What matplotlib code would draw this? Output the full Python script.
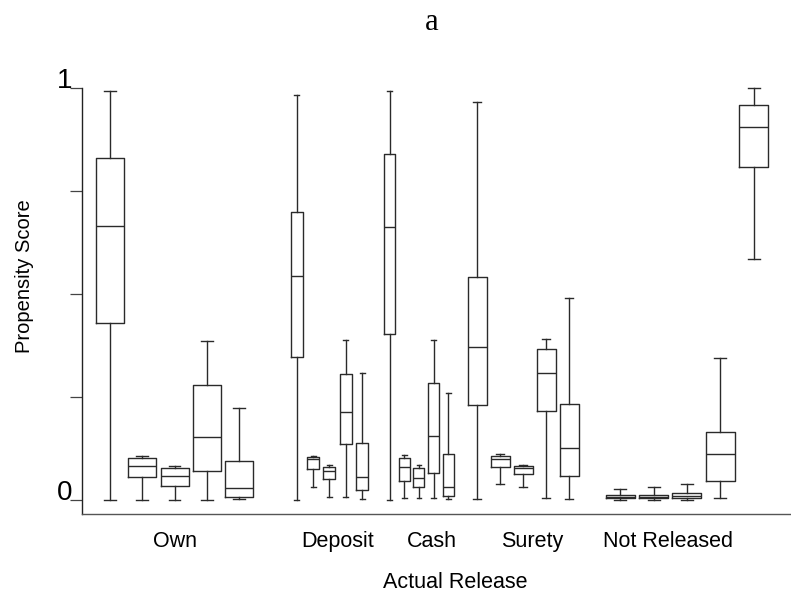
import matplotlib
matplotlib.use("Agg")
import matplotlib.pyplot as plt

plt.rcParams['font.family'] = ['Liberation Sans', 'DejaVu Sans']

# actual release groups
groups = ["Own", "Deposit", "Cash", "Surety", "Not Released"]

# five-number summaries per box: whisker low, Q1, median, Q3, whisker high
# (one box for each predicted release type, in the same order)
own = [[0.000, 0.430, 0.665, 0.829, 0.993],
       [0.000, 0.056, 0.083, 0.102, 0.108],
       [0.000, 0.034, 0.058, 0.077, 0.083],
       [0.000, 0.070, 0.154, 0.280, 0.387],
       [0.002, 0.008, 0.030, 0.095, 0.224]]
deposit = [[0.000, 0.348, 0.544, 0.698, 0.982],
           [0.032, 0.075, 0.099, 0.105, 0.108],
           [0.008, 0.052, 0.071, 0.080, 0.084],
           [0.008, 0.135, 0.214, 0.307, 0.388],
           [0.002, 0.024, 0.057, 0.138, 0.309]]
cash = [[0.000, 0.402, 0.663, 0.841, 0.992],
        [0.004, 0.046, 0.079, 0.101, 0.109],
        [0.004, 0.032, 0.054, 0.077, 0.085],
        [0.006, 0.066, 0.155, 0.283, 0.388],
        [0.002, 0.010, 0.032, 0.111, 0.260]]
surety = [[0.002, 0.231, 0.372, 0.542, 0.966],
          [0.040, 0.081, 0.100, 0.108, 0.111],
          [0.032, 0.062, 0.077, 0.083, 0.085],
          [0.006, 0.216, 0.309, 0.366, 0.390],
          [0.003, 0.058, 0.127, 0.233, 0.490]]
not_released = [[0.000, 0.004, 0.008, 0.012, 0.026],
                [0.000, 0.004, 0.008, 0.011, 0.032],
                [0.000, 0.006, 0.010, 0.016, 0.038],
                [0.005, 0.047, 0.112, 0.165, 0.344],
                [0.586, 0.809, 0.906, 0.959, 1.000]]
summaries = [own, deposit, cash, surety, not_released]

# layout (x axis in figure-pixel-like units)
centers = [174.5, 329.5, 419.0, 523.3, 687.0]
steps = [32.3, 16.4, 14.6, 23.0, 33.3]
widths = [28, 12, 11, 18.5, 29]
label_x = [175, 338, 432, 532, 668]

W, H = 791, 596
fig = plt.figure(figsize=(W / 100, H / 100), dpi=100)
ax = fig.add_axes([81.7 / W, (H - 514.3) / H, (W - 81.7) / W, (514.3 - 88) / H])

lc = '#2a2a2a'
for g in range(len(groups)):
    stats = []
    pos = []
    for k, s in enumerate(summaries[g]):
        stats.append(dict(whislo=s[0], q1=s[1], med=s[2], q3=s[3], whishi=s[4], fliers=[]))
        pos.append(centers[g] + (k - 2) * steps[g])
    ax.bxp(stats, positions=pos, widths=widths[g], capwidths=widths[g] * 0.42,
           showfliers=False, manage_ticks=False,
           boxprops=dict(color=lc, linewidth=1.0),
           medianprops=dict(color=lc, linewidth=1.0),
           whiskerprops=dict(color=lc, linewidth=1.0),
           capprops=dict(color=lc, linewidth=1.0))

for a in ax.get_children():
    if isinstance(a, matplotlib.lines.Line2D):
        a.set_clip_on(False)

ax.set_xlim(81.7, W)
ax.set_ylim(-0.0347, 1.0)

for sp in ['top', 'right']:
    ax.spines[sp].set_visible(False)
ax.spines['left'].set_color('#222222')
ax.spines['left'].set_linewidth(1.0)
ax.spines['bottom'].set_color('#555555')
ax.spines['bottom'].set_linewidth(1.0)

ax.set_yticks([0, 0.25, 0.5, 0.75, 1.0])
ax.set_yticklabels(['0', '', '', '', '1'], fontsize=20)
ax.tick_params(axis='y', length=9, width=0.9, color='#444444', pad=-2)
plt.setp(ax.get_yticklabels(), va='baseline')

ax.set_xticks(label_x)
ax.set_xticklabels(groups, fontsize=15.5)
ax.tick_params(axis='x', length=0, pad=12)

fig.text(455 / W, 1 - 582 / H, "Actual Release", ha='center', va='center', fontsize=15.5)
fig.text(25 / W, 1 - 276 / H, "Propensity Score", ha='center', va='center',
         rotation=90, fontsize=14.5)
fig.text(432 / W, 1 - 22 / H, "a", ha='center', va='center', fontsize=22,
         family=['Liberation Serif', 'DejaVu Serif'])

fig.savefig("out.png", dpi=100)
